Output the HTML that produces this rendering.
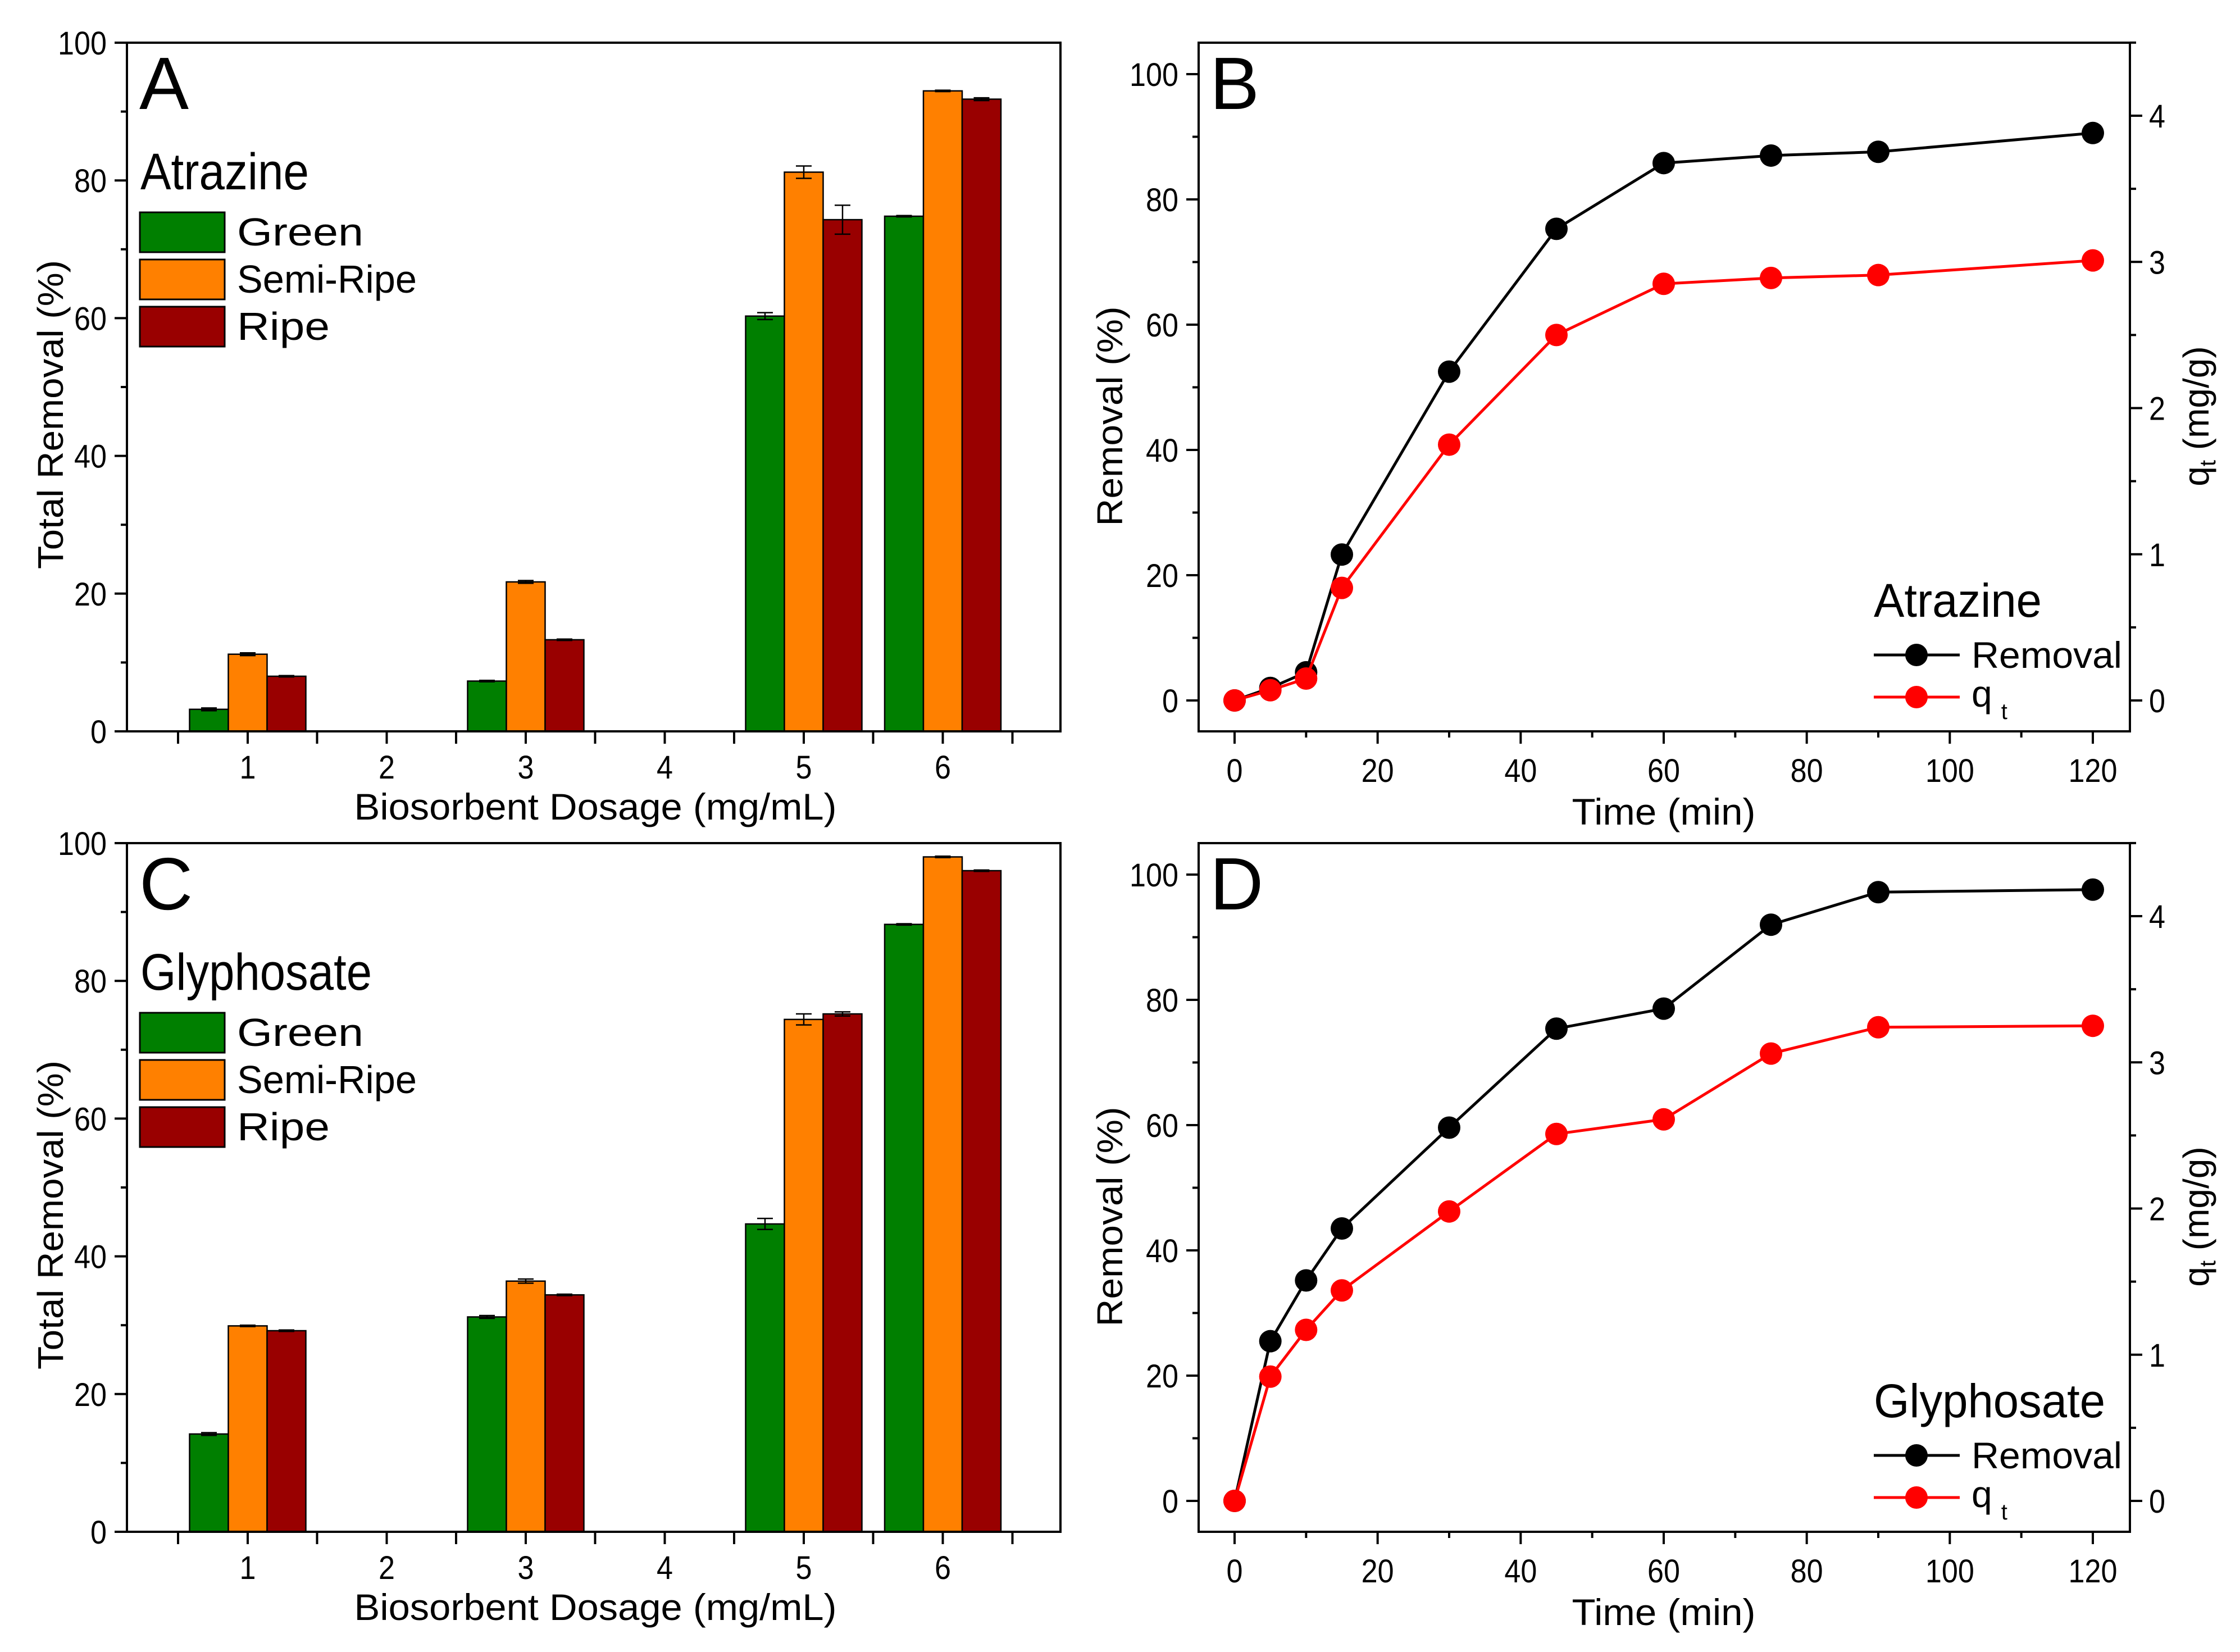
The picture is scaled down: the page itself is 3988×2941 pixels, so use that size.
<!DOCTYPE html>
<html><head><meta charset="utf-8"><style>
html,body{margin:0;padding:0;background:#fff;overflow:hidden}
svg{display:block}
text{font-family:"Liberation Sans",Arial,sans-serif;fill:#000}
</style></head><body>
<svg id="fig" width="3988" height="2941" viewBox="0 0 3988 2941" xmlns="http://www.w3.org/2000/svg"></svg>
<script>
// ---- data ----
const dosages = [1, 2, 3, 4, 5, 6];
const atrGreen = [3.2, 0, 7.3, 0, 60.3, 74.8];
const atrSemi = [11.2, 0, 21.7, 0, 81.2, 93.0];
const atrRipe = [8.0, 0, 13.3, 0, 74.3, 91.8];
const atrGreenErr = [0.2, 0, 0.1, 0, 0.5, 0.1];
const atrSemiErr = [0.2, 0, 0.2, 0, 0.9, 0.1];
const atrRipeErr = [0.1, 0, 0.1, 0, 2.1, 0.2];
const glyGreen = [14.2, 0, 31.2, 0, 44.7, 88.2];
const glySemi = [29.9, 0, 36.4, 0, 74.4, 98.0];
const glyRipe = [29.2, 0, 34.4, 0, 75.2, 96.0];
const glyGreenErr = [0.2, 0, 0.2, 0, 0.8, 0.1];
const glySemiErr = [0.1, 0, 0.3, 0, 0.8, 0.1];
const glyRipeErr = [0.1, 0, 0.1, 0, 0.3, 0.1];
const times = [0, 5, 10, 15, 30, 45, 60, 75, 90, 120];
const atrRemoval = [0, 2.0, 4.5, 23.3, 52.5, 75.3, 85.8, 87.0, 87.6, 90.6];
const atrQt = [0, 0.07, 0.15, 0.77, 1.75, 2.50, 2.85, 2.89, 2.91, 3.01];
const glyRemoval = [0, 25.5, 35.2, 43.5, 59.6, 75.4, 78.6, 92.0, 97.2, 97.6];
const glyQt = [0, 0.85, 1.17, 1.44, 1.98, 2.51, 2.61, 3.06, 3.24, 3.25];
const barYTicks = [0, 20, 40, 60, 80, 100];
const lineYTicks = [0, 20, 40, 60, 80, 100];
const qTicks = [0, 1, 2, 3, 4];
const timeTicks = [0, 20, 40, 60, 80, 100, 120];

const NS = "http://www.w3.org/2000/svg";
const svg = document.getElementById('fig');
function el(tag, attrs, parent, txt){
  const e = document.createElementNS(NS, tag);
  for (const k in attrs) e.setAttribute(k, attrs[k]);
  if (txt !== undefined) e.textContent = txt;
  (parent || svg).appendChild(e);
  return e;
}
const COLORS = ['#007f00', '#ff8000', '#990000'];
const FS = 58;
function numW(s){ return s.length * 29; }

function barPanel(dy, letter, title, titleW, series, errs, names){
  const g = el('g', {});
  
  
  const L = 226, R = 1888, T = 76 + dy, B = 1302 + dy;
  const yS = v => B - v / 100 * (B - T);
  const xS = d => 441 + (d - 1) * 247.5;
  const bw = 69;
  series.forEach((arr, si) => {
    arr.forEach((v, i) => {
      if (v <= 0) return;
      const cx = xS(dosages[i]) + (si - 1) * bw;
      const r = el('rect', {x: cx - bw/2, y: yS(v), width: bw, height: yS(0) - yS(v), fill: COLORS[si], stroke: '#000', 'stroke-width': 2.5}, g);
      
      
      const e = errs[si][i];
      if (e > 0) {
        const eg = el('g', {stroke: '#000', 'stroke-width': 2.5}, g);
        
        
        el('line', {x1: cx, x2: cx, y1: yS(v + e), y2: yS(v - e)}, eg);
        el('line', {x1: cx - 14, x2: cx + 14, y1: yS(v + e), y2: yS(v + e)}, eg);
        el('line', {x1: cx - 14, x2: cx + 14, y1: yS(v - e), y2: yS(v - e)}, eg);
      }
    });
  });
  const f = el('rect', {x: L, y: T, width: R - L, height: B - T, fill: 'none', stroke: '#000', 'stroke-width': 4}, g);
  
  
  barYTicks.forEach(v => {
    el('line', {x1: L - 22, x2: L, y1: yS(v), y2: yS(v), stroke: '#000', 'stroke-width': 4}, g);
    if (v < 100) el('line', {x1: L - 11, x2: L, y1: yS(v + 10), y2: yS(v + 10), stroke: '#000', 'stroke-width': 4}, g);
    const t = el('text', {x: L - 36, y: yS(v) + 21, 'font-size': FS, 'text-anchor': 'end', textLength: numW(String(v)), lengthAdjust: 'spacingAndGlyphs'}, g, String(v));
    
    
  });
  dosages.forEach(d => {
    el('line', {x1: xS(d), x2: xS(d), y1: B, y2: B + 22, stroke: '#000', 'stroke-width': 4}, g);
    el('line', {x1: xS(d) - 124, x2: xS(d) - 124, y1: B, y2: B + 22, stroke: '#000', 'stroke-width': 4}, g);
    const t = el('text', {x: xS(d), y: B + 84, 'font-size': FS, 'text-anchor': 'middle', textLength: 29, lengthAdjust: 'spacingAndGlyphs'}, g, String(d));
    
    
  });
  el('line', {x1: xS(6) + 124, x2: xS(6) + 124, y1: B, y2: B + 22, stroke: '#000', 'stroke-width': 4}, g);
  const xt = el('text', {x: 1060, y: B + 157, 'font-size': 66, 'text-anchor': 'middle', textLength: 859, lengthAdjust: 'spacingAndGlyphs'}, g, 'Biosorbent Dosage (mg/mL)');
  
  
  const yt = el('text', {x: 0, y: 0, 'font-size': 64, 'text-anchor': 'middle', textLength: 550, lengthAdjust: 'spacingAndGlyphs', transform: `translate(112,${dy + 738}) rotate(-90)`}, g, 'Total Removal (%)');
  
  
  const pl = el('text', {x: 248, y: T + 118, 'font-size': 132}, g, letter);
  
  
  const lt = el('text', {x: 250, y: 337 + dy, 'font-size': 92, textLength: titleW, lengthAdjust: 'spacingAndGlyphs'}, g, title);
  
  
  const nw = [225, 320, 165];
  names.forEach((n, i) => {
    const lg = el('g', {}, g);
    
    
    const y0 = 378 + dy + i * 84;
    el('rect', {x: 249, y: y0, width: 151, height: 71, fill: COLORS[i], stroke: '#000', 'stroke-width': 3}, lg);
    el('text', {x: 422, y: y0 + 59, 'font-size': 70, textLength: nw[i], lengthAdjust: 'spacingAndGlyphs'}, lg, n);
  });
}

function linePanel(dy, letter, title, titleW, rem, qt){
  const g = el('g', {});
  
  
  const L = 2134, R = 3792, T = 76 + dy, B = 1302 + dy;
  const xS = t => 2198 + t / 120 * (3726 - 2198);
  const y0 = 1247 + dy, y100 = 132 + dy, q4 = 206 + dy;
  const yS = v => y0 - v / 100 * (y0 - y100);
  const qS = q => y0 - q / 4 * (y0 - q4);
  const f = el('rect', {x: L, y: T, width: R - L, height: B - T, fill: 'none', stroke: '#000', 'stroke-width': 4}, g);
  
  
  lineYTicks.forEach(v => {
    el('line', {x1: L - 22, x2: L, y1: yS(v), y2: yS(v), stroke: '#000', 'stroke-width': 4}, g);
    if (v < 100) el('line', {x1: L - 11, x2: L, y1: yS(v + 10), y2: yS(v + 10), stroke: '#000', 'stroke-width': 4}, g);
    const t = el('text', {x: L - 36, y: yS(v) + 21, 'font-size': FS, 'text-anchor': 'end', textLength: numW(String(v)), lengthAdjust: 'spacingAndGlyphs'}, g, String(v));
    
    
  });
  qTicks.forEach(q => {
    el('line', {x1: R, x2: R + 22, y1: qS(q), y2: qS(q), stroke: '#000', 'stroke-width': 4}, g);
    el('line', {x1: R, x2: R + 11, y1: qS(q + 0.5), y2: qS(q + 0.5), stroke: '#000', 'stroke-width': 4}, g);
    const t = el('text', {x: R + 34, y: qS(q) + 21, 'font-size': FS, textLength: 29, lengthAdjust: 'spacingAndGlyphs'}, g, String(q));
    
    
  });
  timeTicks.forEach(t0 => {
    el('line', {x1: xS(t0), x2: xS(t0), y1: B, y2: B + 22, stroke: '#000', 'stroke-width': 4}, g);
    if (t0 < 120) el('line', {x1: xS(t0 + 10), x2: xS(t0 + 10), y1: B, y2: B + 11, stroke: '#000', 'stroke-width': 4}, g);
    const t = el('text', {x: xS(t0), y: B + 90, 'font-size': FS, 'text-anchor': 'middle', textLength: numW(String(t0)), lengthAdjust: 'spacingAndGlyphs'}, g, String(t0));
    
    
  });
  const xt = el('text', {x: 2962, y: B + 166, 'font-size': 66, 'text-anchor': 'middle', textLength: 327, lengthAdjust: 'spacingAndGlyphs'}, g, 'Time (min)');
  
  
  const yt = el('text', {x: 0, y: 0, 'font-size': 64, 'text-anchor': 'middle', textLength: 391, lengthAdjust: 'spacingAndGlyphs', transform: `translate(1998,${dy + 741}) rotate(-90)`}, g, 'Removal (%)');
  
  
  const rt = el('text', {x: 0, y: 0, 'font-size': 64, 'text-anchor': 'middle', transform: `translate(3932,${dy + 741}) rotate(-90)`}, g);
  
  
  el('tspan', {}, rt, 'q');
  el('tspan', {'font-size': 40, dy: 12}, rt, 't');
  el('tspan', {dy: -12}, rt, ' (mg/g)');
  const pl = el('text', {x: 2154, y: T + 118, 'font-size': 132}, g, letter);
  
  
  function series(vals, scale, color, name){
    const sg = el('g', {}, g);
    
    
    const pts = times.map((t, i) => xS(t) + ',' + scale(vals[i])).join(' ');
    el('polyline', {points: pts, fill: 'none', stroke: color, 'stroke-width': 5}, sg);
    times.forEach((t, i) => {
      const c = el('circle', {cx: xS(t), cy: scale(vals[i]), r: 20, fill: color}, sg);
      
      
    });
  }
  series(rem, yS, '#000', 'removal');
  series(qt, qS, '#ff0000', 'qt');
  const lt = el('text', {x: 3336, y: 1098 + dy, 'font-size': 84, textLength: titleW, lengthAdjust: 'spacingAndGlyphs'}, g, title);
  
  
  const e1 = el('g', {}, g);
  
  
  el('line', {x1: 3336, x2: 3489, y1: 1166 + dy, y2: 1166 + dy, stroke: '#000', 'stroke-width': 5}, e1);
  el('circle', {cx: 3412, cy: 1166 + dy, r: 20, fill: '#000'}, e1);
  el('text', {x: 3510, y: 1189 + dy, 'font-size': 66, textLength: 268, lengthAdjust: 'spacingAndGlyphs'}, e1, 'Removal');
  const e2 = el('g', {}, g);
  
  
  el('line', {x1: 3336, x2: 3489, y1: 1241 + dy, y2: 1241 + dy, stroke: '#ff0000', 'stroke-width': 5}, e2);
  el('circle', {cx: 3412, cy: 1241 + dy, r: 20, fill: '#ff0000'}, e2);
  const qtx = el('text', {x: 3510, y: 1258 + dy, 'font-size': 66}, e2, 'q');
  el('tspan', {'font-size': 40, dx: 16, dy: 22}, qtx, 't');
}

const names = ['Green', 'Semi-Ripe', 'Ripe'];
barPanel(0, 'A', 'Atrazine', 300, [atrGreen, atrSemi, atrRipe], [atrGreenErr, atrSemiErr, atrRipeErr], names);
barPanel(1425, 'C', 'Glyphosate', 412, [glyGreen, glySemi, glyRipe], [glyGreenErr, glySemiErr, glyRipeErr], names);
linePanel(0, 'B', 'Atrazine', 299, atrRemoval, atrQt);
linePanel(1425, 'D', 'Glyphosate', 412, glyRemoval, glyQt);
</script>
</body></html>
